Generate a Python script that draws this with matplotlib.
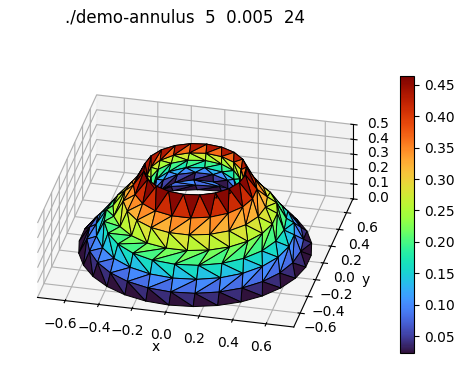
import numpy as np
import matplotlib
matplotlib.use("Agg")
import matplotlib.pyplot as plt
import matplotlib.tri as mtri

# mesh rings, inner hole to outer edge
ring_radius = [0.225, 0.24, 0.25, 0.265, 0.28, 0.30, 0.36, 0.42, 0.48, 0.53, 0.58, 0.63, 0.68]
ring_height = [0.33, 0.37, 0.40, 0.44, 0.48, 0.53, 0.41, 0.33, 0.26, 0.19, 0.125, 0.06, 0.0]
ring_value = [0.0, 0.08, 0.15, 0.22, 0.30, 0.50, 0.37, 0.30, 0.24, 0.18, 0.12, 0.06, 0.0]
ring_nodes = [12, 14, 14, 16, 18, 20, 20, 22, 24, 24, 26, 28, 30]
value_range = [0.023, 0.464]


def strip(i0, n0, i1, n1):
    # zip two neighbouring rings together, always stepping the one lagging behind
    tris = []
    a, b = 0, 0
    while a < n0 or b < n1:
        if b >= n1 or (a < n0 and (a + 1) / n0 <= (b + 1) / n1):
            tris.append([i0 + a % n0, i0 + (a + 1) % n0, i1 + b % n1])
            a += 1
        else:
            tris.append([i0 + a % n0, i1 + (b + 1) % n1, i1 + b % n1])
            b += 1
    return tris


x, y, z, v = [], [], [], []
starts = []
for r, h, c, n in zip(ring_radius, ring_height, ring_value, ring_nodes):
    starts.append(len(x))
    t = 2 * np.pi * (np.arange(n) + 0.5 * (len(starts) % 2)) / n
    x.extend(r * np.cos(t))
    y.extend(r * np.sin(t))
    z.extend([h] * n)
    v.extend([c] * n)
x, y, z, v = np.array(x), np.array(y), np.array(z), np.array(v)

triangles = []
for k in range(len(ring_radius) - 1):
    triangles += strip(starts[k], ring_nodes[k], starts[k + 1], ring_nodes[k + 1])
tri = mtri.Triangulation(x, y, triangles=np.array(triangles))

fig = plt.figure(figsize=(4.75, 3.86), dpi=100)
ax = fig.add_axes([-0.04, -0.06, 0.88, 1.0], projection="3d", proj_type="ortho")
surf = ax.plot_trisurf(tri, z, cmap="turbo", edgecolor="black", linewidth=0.7, antialiased=True)
surf.set_array(v[tri.triangles].mean(axis=1))
surf.set_clim(*value_range)
ax.view_init(elev=30, azim=-77)
ax.set_xlim(-0.765, 0.765)
ax.set_ylim(-0.765, 0.765)
ax.set_zlim(0, 0.5)
ax.set_box_aspect((1.53, 1.53, 0.5), zoom=0.96)
ax.set_xticks([-0.6, -0.4, -0.2, 0.0, 0.2, 0.4, 0.6])
ax.set_yticks([-0.6, -0.4, -0.2, 0.0, 0.2, 0.4, 0.6])
ax.set_zticks([0.0, 0.1, 0.2, 0.3, 0.4, 0.5])
ax.set_xlabel("x", labelpad=4)
ax.set_ylabel("y", labelpad=3)

cax = fig.add_axes([400 / 475, 1 - 353 / 386, 14 / 475, 277 / 386])
fig.colorbar(surf, cax=cax)
fig.text(185 / 475, 1 - 17 / 386, "./demo-annulus  5  0.005  24", ha="center", va="center", fontsize=12)

fig.savefig("out.png", dpi=100)
